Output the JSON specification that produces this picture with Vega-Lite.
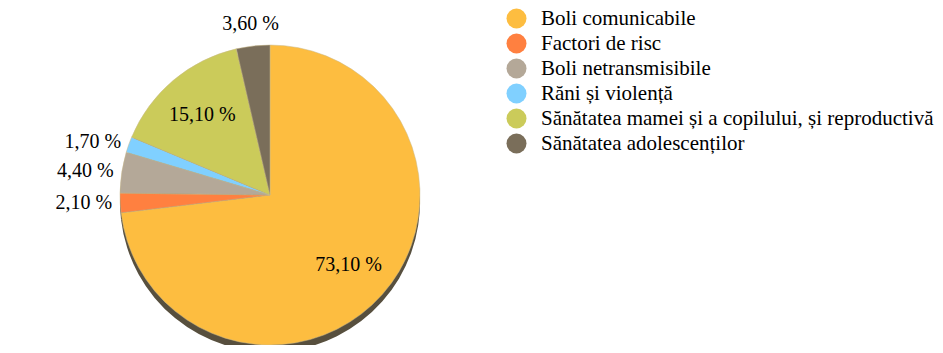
{
  "$schema": "https://vega.github.io/schema/vega-lite/v6.json",
  "autosize": {"type": "none"},
  "padding": {"top": 45, "left": 0, "right": 403, "bottom": 0},
  "width": 540,
  "height": 300,
  "background": "white",
  "data": {
    "values": [
      {"cat": "Boli comunicabile", "value": 73.1, "label": "73,10 %", "order": 1},
      {"cat": "Factori de risc", "value": 2.1, "label": "2,10 %", "order": 2},
      {"cat": "Boli netransmisibile", "value": 4.4, "label": "4,40 %", "order": 3},
      {"cat": "Răni și violență", "value": 1.7, "label": "1,70 %", "order": 4},
      {"cat": "Sănătatea mamei și a copilului, și reproductivă", "value": 15.1, "label": "15,10 %", "order": 5},
      {"cat": "Sănătatea adolescenților", "value": 3.6, "label": "3,60 %", "order": 6}
    ]
  },
  "encoding": {
    "theta": {"field": "value", "type": "quantitative", "stack": true},
    "order": {"field": "order", "type": "quantitative"}
  },
  "layer": [
    {
      "mark": {"type": "arc", "radius": 150, "yOffset": 7, "color": "#574f3e"}
    },
    {
      "mark": {"type": "arc", "radius": 150, "stroke": "#c9b98a", "strokeWidth": 0.5},
      "encoding": {
        "color": {
          "field": "cat",
          "type": "nominal",
          "sort": null,
          "scale": {
            "domain": ["Boli comunicabile", "Factori de risc", "Boli netransmisibile", "Răni și violență", "Sănătatea mamei și a copilului, și reproductivă", "Sănătatea adolescenților"],
            "range": ["#fdbd40", "#ff8040", "#b4a898", "#80d0ff", "#cbcb5a", "#7a6e5a"]
          },
          "legend": {
            "title": null,
            "orient": "none",
            "legendX": 506,
            "legendY": -37,
            "symbolType": "circle",
            "symbolSize": 400,
            "symbolStrokeWidth": 0,
            "labelFont": "Liberation Serif",
            "labelFontSize": 21,
            "labelColor": "#000000",
            "labelOffset": 14,
            "labelLimit": 500,
            "rowPadding": 3
          }
        }
      }
    },
    {
      "mark": {"type": "text", "radius": 105, "font": "Liberation Serif", "fontSize": 20, "color": "#000000"},
      "encoding": {
        "text": {"condition": {"test": "datum.value > 10", "field": "label"}, "value": ""}
      }
    },
    {
      "mark": {"type": "text", "radius": 172, "font": "Liberation Serif", "fontSize": 20, "color": "#000000"},
      "encoding": {
        "text": {"condition": {"test": "datum.order == 6", "field": "label"}, "value": ""}
      }
    },
    {
      "mark": {"type": "text", "radius": 158, "align": "right", "font": "Liberation Serif", "fontSize": 20, "color": "#000000"},
      "encoding": {
        "text": {"condition": {"test": "datum.value <= 10 && datum.order != 6", "field": "label"}, "value": ""}
      }
    }
  ]
}
